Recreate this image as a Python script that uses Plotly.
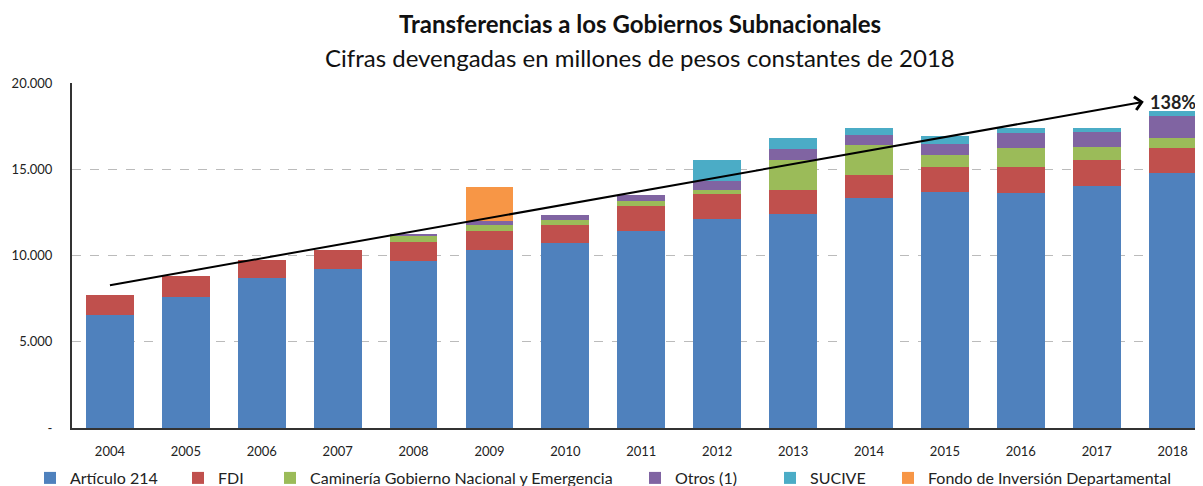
import plotly.graph_objects as go

years = [str(y) for y in range(2004, 2019)]

articulo_214 = [6560, 7590, 8690, 9230, 9700, 10340, 10720, 11400, 12120, 12430, 13340, 13660, 13630, 14010, 14790]
fdi          = [1150, 1200, 1070, 1110, 1080, 1060, 1070, 1450, 1450, 1390, 1350, 1480, 1490, 1550, 1450]
camineria    = [0, 0, 0, 0, 330, 350, 250, 290, 250, 1700, 1690, 710, 1120, 720, 580]
otros        = [0, 0, 0, 0, 150, 230, 290, 390, 480, 660, 630, 640, 870, 870, 1260]
sucive       = [0, 0, 0, 0, 0, 0, 0, 0, 1260, 640, 390, 430, 290, 250, 290]
fondo_dep    = [0, 0, 0, 0, 0, 1970, 0, 0, 0, 0, 0, 0, 0, 0, 0]

series_names = ["Artículo 214", "FDI", "Caminería Gobierno Nacional y Emergencia",
                "Otros (1)", "SUCIVE", "Fondo de Inversión Departamental"]
series_vals = [articulo_214, fdi, camineria, otros, sucive, fondo_dep]
colors = ["#4F81BD", "#C0504D", "#9BBB59", "#8064A2", "#4BACC6", "#F79646"]

y_tickvals = [0, 5000, 10000, 15000, 20000]
y_ticktext = ["-", "5.000", "10.000", "15.000", "20.000"]

trend_start = 8260
trend_end = 18910
growth_label = "138%"

FONT = "Lato, 'Open Sans', sans-serif"
# page is rendered with an 8px body margin; figure sized to fill the rest of the window
OFF = 8
W, H = 1203 - OFF, 486 - OFF
L, R, T, B = 72 - OFF, 0, 83 - OFF, 486 - 428
PW, PH = W - L - R, H - T - B

legend_text_px = [70, 218, 310, 675, 810, 928]

fig = go.Figure()
legend_ids = ["legend", "legend2", "legend3", "legend4", "legend5", "legend6"]
for name, vals, col, lid in zip(series_names, series_vals, colors, legend_ids):
    fig.add_trace(go.Bar(x=years, y=vals, name=name, marker_color=col,
                         marker_line_width=0, legend=lid))

# trend arrow
fig.add_annotation(x=13.62, y=trend_end, ax=-0.02, ay=trend_start,
                   xref="x", yref="y", axref="x", ayref="y",
                   showarrow=True, arrowhead=4, arrowsize=1.3, arrowwidth=2,
                   arrowcolor="#000000", text="")
fig.add_annotation(x=14.0, y=trend_end, xref="x", yref="y", text="<b>" + growth_label + "</b>",
                   showarrow=False, font=dict(family=FONT, size=18, color="#222222"))

# titles
fig.add_annotation(x=(640 - OFF - L) / PW, y=(H - B - (24 - OFF)) / PH, xref="paper", yref="paper",
                   text="<b>Transferencias a los Gobiernos Subnacionales</b>", xanchor="center", yanchor="middle",
                   showarrow=False, font=dict(family=FONT, size=24, color="#111111"))
fig.add_annotation(x=(640 - OFF - L) / PW, y=(H - B - (58 - OFF)) / PH, xref="paper", yref="paper",
                   text="Cifras devengadas en millones de pesos constantes de 2018", xanchor="center", yanchor="middle",
                   showarrow=False, font=dict(family=FONT, size=24, color="#111111"))

layout_legends = {}
for i, lid in enumerate(legend_ids):
    layout_legends[lid] = dict(orientation="h", xref="container", yref="container",
                               x=(legend_text_px[i] - OFF - 40) / W, y=8 / H, xanchor="left", yanchor="middle",
                               font=dict(family=FONT, size=16, color="#222222"),
                               bgcolor="rgba(0,0,0,0)", itemwidth=30)

fig.update_layout(
    width=W, height=H,
    margin=dict(l=L, r=R, t=T, b=B, autoexpand=False),
    paper_bgcolor="white", plot_bgcolor="white",
    barmode="stack", bargap=0.37,
    showlegend=True,
    font=dict(family=FONT, size=13, color="#222222"),
    **layout_legends,
)
fig.update_xaxes(type="category", range=[-0.5, 14.4], showline=True, linecolor="#333333", linewidth=2,
                 showgrid=False, ticks="", tickfont=dict(size=13), ticklabelstandoff=10, automargin=False)
fig.update_yaxes(range=[0, 20000], tickvals=y_tickvals, ticktext=y_ticktext,
                 showline=True, linecolor="#333333", linewidth=2,
                 showgrid=True, gridcolor="#BBBBBB", griddash="dash", gridwidth=1,
                 zeroline=False, ticks="", tickfont=dict(size=13), ticklabelstandoff=15, automargin=False)

fig.write_html("out.html")
